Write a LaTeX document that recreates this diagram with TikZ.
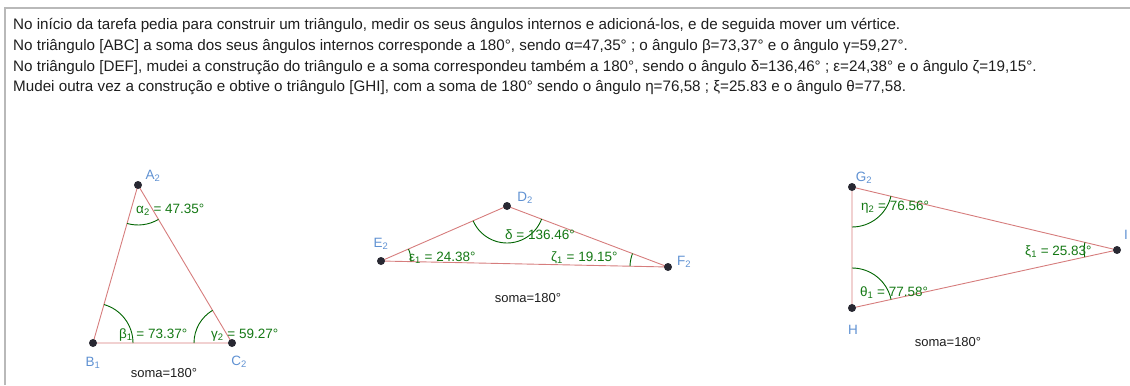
\documentclass[tikz,border=0pt]{standalone}
\usepackage{fontspec}
\setmainfont{Liberation Sans}
\usetikzlibrary{angles}

\definecolor{sidered}{RGB}{214,125,125}
\definecolor{arcgreen}{RGB}{0,100,0}
\definecolor{lblgreen}{RGB}{20,120,20}
\definecolor{vblue}{RGB}{95,145,210}
\definecolor{framegray}{RGB}{185,185,185}
\definecolor{ptdark}{RGB}{40,40,50}
\definecolor{txtdark}{RGB}{30,30,30}

\tikzset{
  side/.style={sidered, line width=0.9bp},
  angarc/.style={draw=arcgreen, line width=0.9bp},
  pt/.style={circle, fill=ptdark, inner sep=0pt, minimum size=8bp},
  anglbl/.style={anchor=west, text=lblgreen, inner sep=0pt, font=\fontsize{13.5bp}{15bp}\selectfont},
  vlbl/.style={text=vblue, inner sep=0pt, font=\fontsize{13.5bp}{15bp}\selectfont},
  somalbl/.style={text=txtdark, inner sep=0pt, font=\fontsize{13bp}{15bp}\selectfont},
  txtline/.style={anchor=base west, text=txtdark, inner sep=0pt, font=\fontsize{15.2bp}{18bp}\selectfont}
}

\begin{document}
\begin{tikzpicture}[x=1bp,y=1bp]
    \useasboundingbox (0,0) rectangle (1130,385);

    % Frame
    \draw[framegray, line width=2bp] (5,0) -- (5,377) -- (1130,377);

    % Text
    \node[txtline] (l1) at (13,356) {No início da tarefa pedia para construir um triângulo, medir os seus ângulos internos e adicioná-los, e de seguida mover um vértice.};
    \node[txtline] (l2) at (13,335) {No triângulo [ABC] a soma dos seus ângulos internos corresponde a 180°, sendo α=47,35° ; o ângulo β=73,37° e o ângulo γ=59,27°.};
    \node[txtline] (l3) at (13,314) {No triângulo [DEF], mudei a construção do triângulo e a soma correspondeu também a 180°, sendo o ângulo δ=136,46° ; ε=24,38° e o ângulo ζ=19,15°.};
    \node[txtline] (l4) at (13,294) {Mudei outra vez a construção e obtive o triângulo [GHI], com a soma de 180° sendo o ângulo η=76,58 ; ξ=25.83 e o ângulo θ=77,58.};

    % Triangle ABC
    \coordinate (A) at (138,200);
    \coordinate (B) at (93,42);
    \coordinate (C) at (232,42);
    \draw[side] (A) -- (B) -- (C) -- cycle;
    \pic[angarc, angle radius=40bp] {angle = B--A--C};
    \pic[angarc, angle radius=40bp] {angle = C--B--A};
    \pic[angarc, angle radius=38bp] {angle = A--C--B};
    \node[pt] (pA) at (A) {};
    \node[pt] (pB) at (B) {};
    \node[pt] (pC) at (C) {};
    \node[vlbl] (lA) at (153,209) {A\textsubscript{2}};
    \node[vlbl] (lB) at (93,22) {B\textsubscript{1}};
    \node[vlbl] (lC) at (239,23) {C\textsubscript{2}};
    \node[anglbl] (alpha) at (136,175) {α\textsubscript{2} = 47.35°};
    \node[anglbl] (beta) at (119,50) {β\textsubscript{1} = 73.37°};
    \node[anglbl] (gamma) at (211,50) {γ\textsubscript{2} = 59.27°};
    \node[somalbl] (s1) at (164,12) {soma=180°};

    % Triangle DEF
    \coordinate (D) at (507,179);
    \coordinate (E) at (381,124);
    \coordinate (F) at (668,118);
    \draw[side] (D) -- (E) -- (F) -- cycle;
    \pic[angarc, angle radius=37bp] {angle = E--D--F};
    \pic[angarc, angle radius=30bp] {angle = F--E--D};
    \pic[angarc, angle radius=38bp] {angle = D--F--E};
    \node[pt] (pD) at (D) {};
    \node[pt] (pE) at (E) {};
    \node[pt] (pF) at (F) {};
    \node[vlbl] (lD) at (525,187) {D\textsubscript{2}};
    \node[vlbl] (lE) at (381,141) {E\textsubscript{2}};
    \node[vlbl] (lF) at (684,123) {F\textsubscript{2}};
    \node[anglbl] (delta) at (505,150) {δ = 136.46°};
    \node[anglbl] (eps) at (409,127) {ε\textsubscript{1} = 24.38°};
    \node[anglbl] (zeta) at (551,127) {ζ\textsubscript{1} = 19.15°};
    \node[somalbl] (s2) at (528,87) {soma=180°};

    % Triangle GHI
    \coordinate (G) at (852,198);
    \coordinate (H) at (852,77);
    \coordinate (I) at (1117,135);
    \draw[side] (G) -- (H) -- (I) -- cycle;
    \pic[angarc, angle radius=40bp] {angle = H--G--I};
    \pic[angarc, angle radius=40bp] {angle = I--H--G};
    \pic[angarc, angle radius=33bp] {angle = G--I--H};
    \node[pt] (pG) at (G) {};
    \node[pt] (pH) at (H) {};
    \node[pt] (pI) at (I) {};
    \node[vlbl] (lG) at (864,207) {G\textsubscript{2}};
    \node[vlbl] (lH) at (853,55) {H};
    \node[vlbl] (lI) at (1126,150) {I};
    \node[anglbl] (eta) at (861,178) {η\textsubscript{2} = 76.56°};
    \node[anglbl] (theta) at (860,92) {θ\textsubscript{1} = 77.58°};
    \node[anglbl] (xi) at (1025,133) {ξ\textsubscript{1} = 25.83°};
    \node[somalbl] (s3) at (948,43) {soma=180°};

\end{tikzpicture}
\end{document}
